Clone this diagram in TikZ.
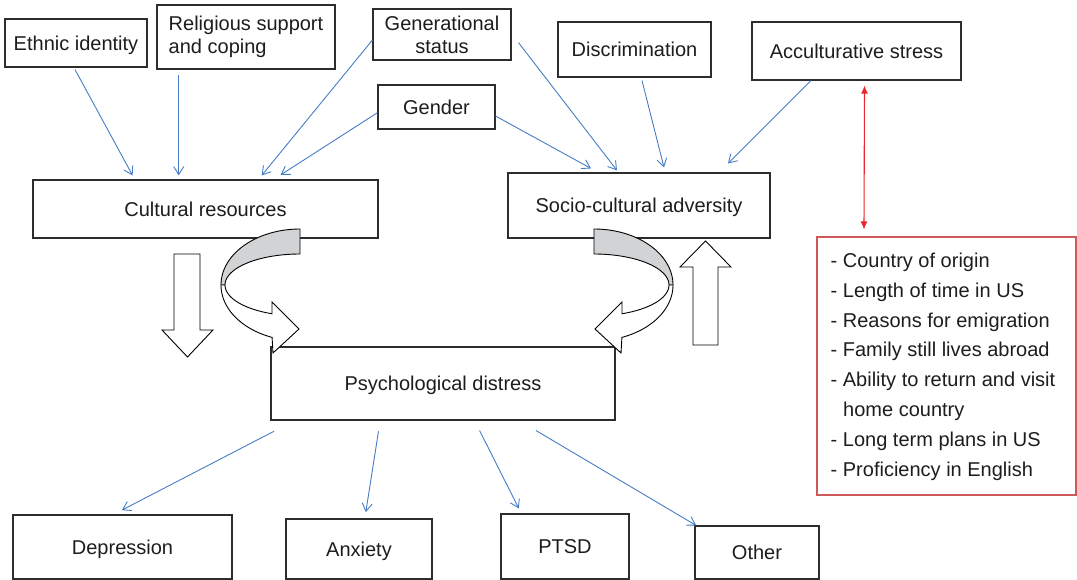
\documentclass[tikz,border=0pt]{standalone}
\usepackage{fontspec}
\setmainfont{Liberation Sans}
\usetikzlibrary{arrows.meta,calc}
\definecolor{txt}{RGB}{30,28,30}
\definecolor{frame}{RGB}{45,45,45}
\definecolor{blueln}{RGB}{70,125,195}
\definecolor{redln}{RGB}{236,38,45}
\definecolor{redframe}{RGB}{205,90,90}
\definecolor{shade}{RGB}{210,211,213}
\begin{document}
\begin{tikzpicture}[x=1pt,y=-1pt,
  font=\fontsize{20}{23}\selectfont, text=txt,
  box/.style={draw=frame, line width=1.1pt, fill=white, inner sep=0pt, text height=14.3pt, text depth=0pt},
  mbox/.style={draw=frame, line width=1.1pt, fill=white, inner sep=0pt},
  link/.style={draw=blueln, line width=0.9pt, -{Straight Barb[length=8pt,width=10pt]}},
  redlink/.style={draw=redln, line width=1.1pt, {Latex[length=8pt,width=7pt]}-{Latex[length=8pt,width=7pt]}},
  hollow/.style={draw=black, line width=0.9pt, fill=white, line join=miter},
  item/.style={anchor=base west, inner sep=0pt}
]
\useasboundingbox (0,0) rectangle (1077,580);

% top factor boxes
\node[box, minimum width=142pt, minimum height=48pt] (eth) at (76,43) {Ethnic identity};
\node[mbox, minimum width=178pt, minimum height=64pt, align=left] (rel) at (246,37) {Religious support\\and coping};
\node[mbox, minimum width=138pt, minimum height=51pt, align=center] (gen) at (442,34.5) {Generational\\status};
\node[box, minimum width=117pt, minimum height=44pt] (gend) at (436.5,107) {Gender};
\node[box, minimum width=153pt, minimum height=55pt] (disc) at (634.5,49.5) {Discrimination};
\node[box, minimum width=209pt, minimum height=58pt] (acc) at (856.5,51) {Acculturative stress};

% middle boxes
\node[box, minimum width=345pt, minimum height=58pt] (cult) at (205.5,209) {Cultural resources};
\node[box, minimum width=262pt, minimum height=65pt] (socio) at (639,205.5) {Socio-cultural adversity};
\node[box, minimum width=344pt, minimum height=73pt] (psych) at (443,383.5) {Psychological distress};

% outcome boxes
\node[box, minimum width=219pt, minimum height=64pt] (dep) at (122.5,547) {Depression};
\node[box, minimum width=146pt, minimum height=60pt] (anx) at (359,549) {Anxiety};
\node[box, minimum width=128pt, minimum height=65pt] (ptsd) at (565,546.5) {PTSD};
\node[box, minimum width=124pt, minimum height=53pt] (oth) at (757,552.5) {Other};

% red list box
\node[draw=redframe, line width=1.1pt, minimum width=259pt, minimum height=258pt, inner sep=0pt] (red) at (946.5,366) {};
\node[item] (l1) at (830.5,267.5) {- Country of origin};
\node[item] (l2) at (830.5,297.3) {- Length of time in US};
\node[item] (l3) at (830.5,327.1) {- Reasons for emigration};
\node[item] (l4) at (830.5,356.9) {- Family still lives abroad};
\node[item] (l5) at (830.5,386.7) {- Ability to return and visit};
\node[item] (l6) at (843,416.5) {home country};
\node[item] (l7) at (830.5,446.3) {- Long term plans in US};
\node[item] (l8) at (830.5,476.1) {- Proficiency in English};

% blue connectors into cultural resources
\draw[link] ([xshift=-1pt,yshift=-2pt]eth.south) -- ([xshift=-72.9pt,yshift=4pt]cult.north);
\draw[link] ([xshift=-67.3pt,yshift=-5.7pt]rel.south) -- ([xshift=-26.8pt,yshift=4pt]cult.north);
\draw[link] ([yshift=-5.5pt]gen.west) -- ([xshift=56.2pt,yshift=4pt]cult.north);
\draw[link] ([yshift=-5.7pt]gend.west) -- ([xshift=75.1pt,yshift=4.5pt]cult.north);
% blue connectors into socio-cultural adversity
\draw[link] ([yshift=-9pt]gend.east) -- ([xshift=-48pt,yshift=4pt]socio.north);
\draw[link] ([xshift=7pt,yshift=-8.2pt]gen.east) -- ([xshift=-22pt,yshift=2pt]socio.north);
\draw[link] ([xshift=7.5pt,yshift=-3pt]disc.south) -- ([xshift=25pt,yshift=5pt]socio.north);
\draw[link] ([xshift=-45.5pt]acc.south) -- ([xshift=89pt,yshift=9pt]socio.north);
% outcomes
\draw[link] ([xshift=-169pt,yshift=-10.7pt]psych.south) -- ([xshift=-0.7pt,yshift=4.3pt]dep.north);
\draw[link] ([xshift=-64.5pt,yshift=-10.7pt]psych.south) -- ([xshift=6.8pt,yshift=6.3pt]anx.north);
\draw[link] ([xshift=36.6pt,yshift=-10pt]psych.south) -- ([xshift=-46.2pt,yshift=5pt]ptsd.north);
\draw[link] ([xshift=93pt,yshift=-10pt]psych.south) -- ([xshift=1.7pt]oth.north west);

% red double arrow
\draw[redlink] ([xshift=8pt,yshift=-5pt]acc.south) -- ([xshift=-82.5pt,yshift=7pt]red.north);

% hollow straight arrows
\draw[hollow] (174,254) -- (200,254) -- (200,330) -- (213,330) -- (187.5,357) -- (162,330) -- (174,330) -- cycle;
\draw[hollow] (693,345) -- (718,345) -- (718,267) -- (731,267) -- (705.5,241) -- (680,267) -- (693,267) -- cycle;

% left curved arrow
\draw[hollow, fill=shade] plot[domain=270:180, samples=40, smooth] ({300+79*cos(\x)},{285+56*sin(\x)})
  -- plot[domain=180:270, samples=40, smooth] ({300+75*cos(\x)},{285+31*sin(\x)}) -- cycle;
\draw[hollow] plot[domain=180:110.7, samples=30, smooth] ({300+79*cos(\x)},{285+56*sin(\x)})
  -- (273,353) -- (299,329) -- (272,302)
  -- plot[domain=111.9:180, samples=30, smooth] ({300+75*cos(\x)},{285+31*sin(\x)}) -- cycle;

% right curved arrow
\draw[hollow, fill=shade] plot[domain=270:180, samples=40, smooth] ({594-79*cos(\x)},{285+56*sin(\x)})
  -- plot[domain=180:270, samples=40, smooth] ({594-75*cos(\x)},{285+31*sin(\x)}) -- cycle;
\draw[hollow] plot[domain=180:110.7, samples=30, smooth] ({594-79*cos(\x)},{285+56*sin(\x)})
  -- (621,353) -- (595,329) -- (622,302)
  -- plot[domain=111.9:180, samples=30, smooth] ({594-75*cos(\x)},{285+31*sin(\x)}) -- cycle;
\end{tikzpicture}
\end{document}
